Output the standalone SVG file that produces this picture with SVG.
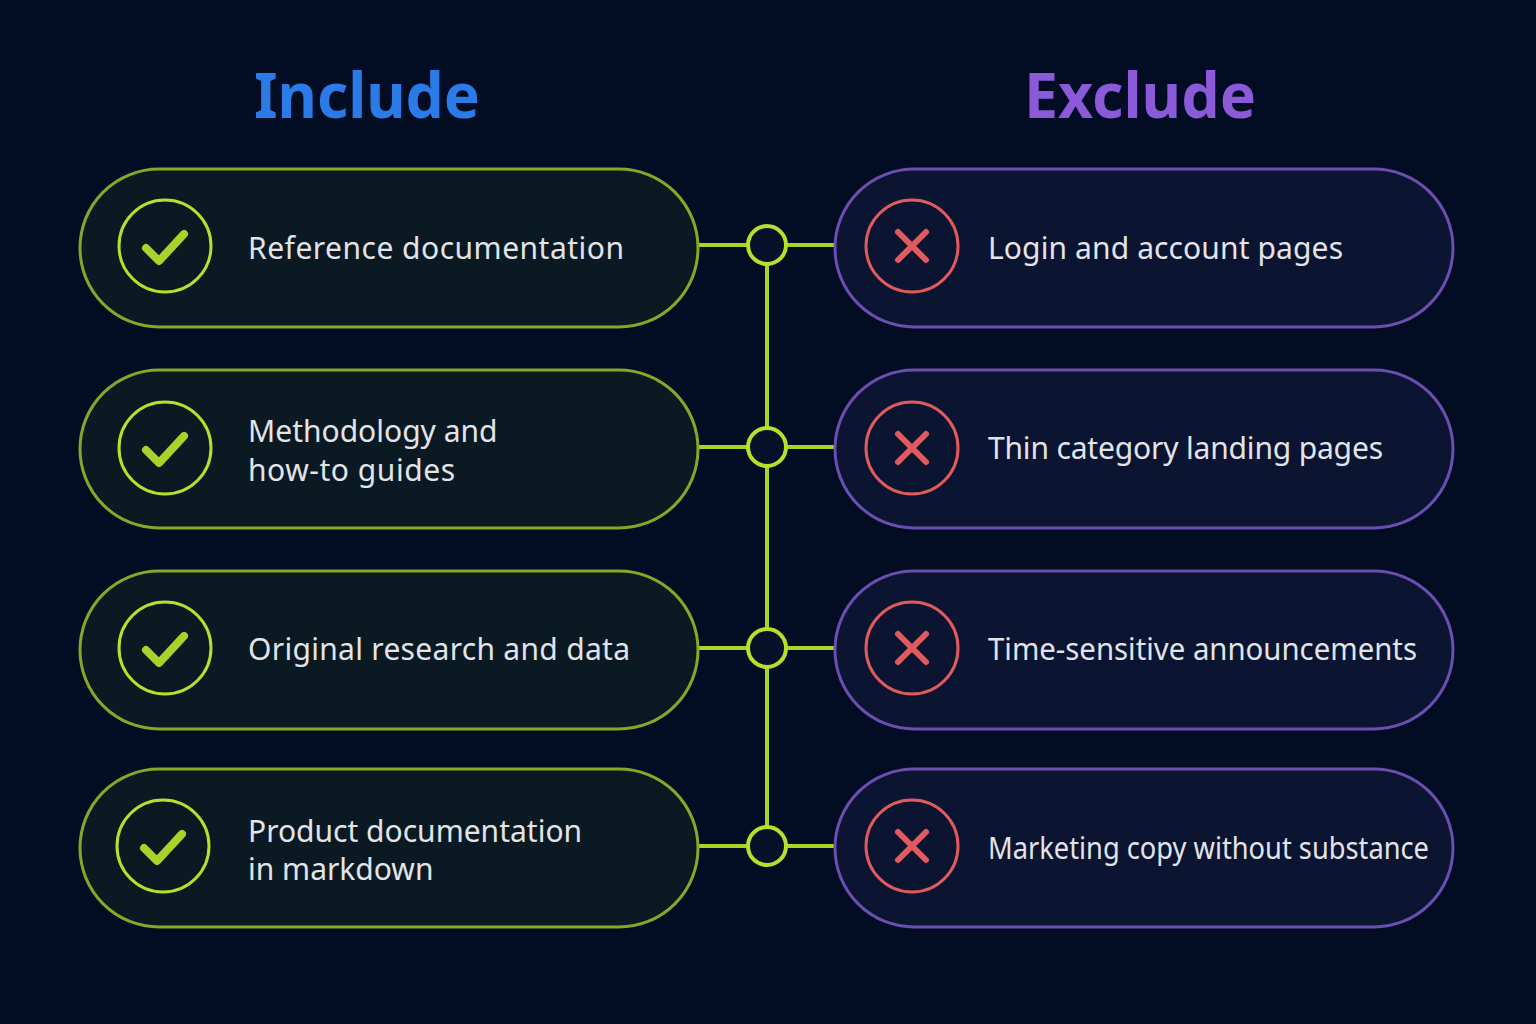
<svg xmlns="http://www.w3.org/2000/svg" width="1536" height="1024" viewBox="0 0 1536 1024">
<defs><style>
.inc{fill:#0b1a22;stroke:#86a828;stroke-width:3}
.exc{fill:#0b1430;stroke:#6a4fb0;stroke-width:3}
.ci{fill:none;stroke:#b8e02a;stroke-width:3}
.ce{fill:none;stroke:#e05a5e;stroke-width:3}
.ck{fill:none;stroke:#a8d42a;stroke-width:8;stroke-linecap:round;stroke-linejoin:round}
.x{fill:none;stroke:#e05a5e;stroke-width:6;stroke-linecap:round}
.t{font-family:"Noto Sans",sans-serif;font-size:30px;fill:#e2e4ea}
.h{font-family:"Noto Sans",sans-serif;font-size:62px;font-weight:bold;text-anchor:middle}
.ln{stroke:#a8d42a;stroke-width:4;fill:none}
.nd{fill:#07122a;stroke:#b8e02a;stroke-width:4}
</style></defs>
<rect width="1536" height="1024" fill="#020c22"/>
<text class="h" x="367" y="118" fill="#2a7be8" textLength="226" lengthAdjust="spacingAndGlyphs">Include</text>
<text class="h" x="1140" y="118" fill="#8a5ad8" textLength="232" lengthAdjust="spacingAndGlyphs">Exclude</text>
<g id="connectors">
<path class="ln" d="M767 245V846M698 245H835M698 447H835M698 648H835M698 846H835"/>
<circle class="nd" cx="767" cy="245" r="19"/><circle class="nd" cx="767" cy="447" r="19"/><circle class="nd" cx="767" cy="648" r="19"/><circle class="nd" cx="767" cy="846" r="19"/>
</g>
<g id="inc1"><rect class="inc" x="80" y="169" width="618" height="158" rx="79"/><circle class="ci" cx="165" cy="246" r="46"/><path class="ck" d="M146 248l13 13 25-27"/><text class="t" x="248" y="259" textLength="376">Reference documentation</text></g>
<g id="inc2"><rect class="inc" x="80" y="370" width="618" height="158" rx="79"/><circle class="ci" cx="165" cy="448" r="46"/><path class="ck" d="M146 450l13 13 25-27"/><text class="t" x="248" y="442">Methodology and</text><text class="t" x="248" y="481" textLength="207">how-to guides</text></g>
<g id="inc3"><rect class="inc" x="80" y="571" width="618" height="158" rx="79"/><circle class="ci" cx="165" cy="648" r="46"/><path class="ck" d="M146 650l13 13 25-27"/><text class="t" x="248" y="660" textLength="382">Original research and data</text></g>
<g id="inc4"><rect class="inc" x="80" y="769" width="618" height="158" rx="79"/><circle class="ci" cx="163" cy="846" r="46"/><path class="ck" d="M144 848l13 13 25-27"/><text class="t" x="248" y="842">Product documentation</text><text class="t" x="248" y="880">in markdown</text></g>
<g id="exc1"><rect class="exc" x="835" y="169" width="618" height="158" rx="79"/><circle class="ce" cx="912" cy="246" r="46"/><path class="x" d="M898 232l28 28M926 232l-28 28"/><text class="t" x="988" y="259" textLength="355">Login and account pages</text></g>
<g id="exc2"><rect class="exc" x="835" y="370" width="618" height="158" rx="79"/><circle class="ce" cx="912" cy="448" r="46"/><path class="x" d="M898 434l28 28M926 434l-28 28"/><text class="t" x="988" y="459" textLength="395">Thin category landing pages</text></g>
<g id="exc3"><rect class="exc" x="835" y="571" width="618" height="158" rx="79"/><circle class="ce" cx="912" cy="648" r="46"/><path class="x" d="M898 634l28 28M926 634l-28 28"/><text class="t" x="988" y="660" textLength="429" lengthAdjust="spacingAndGlyphs">Time-sensitive announcements</text></g>
<g id="exc4"><rect class="exc" x="835" y="769" width="618" height="158" rx="79"/><circle class="ce" cx="912" cy="846" r="46"/><path class="x" d="M898 832l28 28M926 832l-28 28"/><text class="t" x="988" y="859" font-size="28" textLength="441" lengthAdjust="spacingAndGlyphs">Marketing copy without substance</text></g>
</svg>
